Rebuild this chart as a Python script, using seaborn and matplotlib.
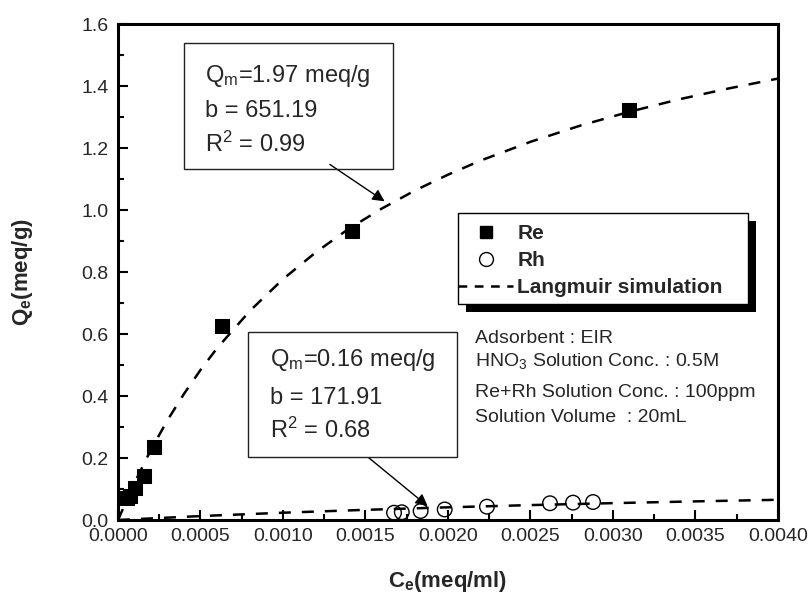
import numpy as np
import pandas as pd
import seaborn as sns
import matplotlib.pyplot as plt
from matplotlib.patches import Rectangle
from matplotlib.lines import Line2D

# measured points
re_c = [0.000053, 0.000073, 0.000103, 0.000158, 0.00022, 0.000628, 0.001418, 0.003097]
re_q = [0.072, 0.078, 0.102, 0.142, 0.234, 0.625, 0.932, 1.322]
rh_c = [0.001673, 0.00172, 0.001834, 0.00198, 0.002236, 0.002618, 0.002758, 0.002879]
rh_q = [0.0235, 0.025, 0.029, 0.034, 0.043, 0.054, 0.056, 0.058]

# Langmuir simulation curves
re_fit_c = [0, 0.0001, 0.0002, 0.0003, 0.0004, 0.0005, 0.0006, 0.0008, 0.001, 0.0012,
            0.0014, 0.0016, 0.0018, 0.002, 0.0022, 0.0025, 0.0028, 0.0031, 0.0034, 0.0037, 0.004]
re_fit_q = [0, 0.120, 0.227, 0.322, 0.407, 0.484, 0.554, 0.675, 0.777, 0.864,
            0.940, 1.005, 1.063, 1.114, 1.160, 1.220, 1.272, 1.317, 1.357, 1.392, 1.424]
rh_fit_c = [0, 0.0005, 0.001, 0.0015, 0.002, 0.0025, 0.003, 0.0035, 0.004]
rh_fit_q = [0, 0.0127, 0.0235, 0.0328, 0.0409, 0.0481, 0.0544, 0.0601, 0.0652]

re_text = [r'Q$_\mathrm{m}$=1.97 meq/g', 'b = 651.19', r'R$^\mathrm{2}$ = 0.99']
rh_text = [r'Q$_\mathrm{m}$=0.16 meq/g', 'b = 171.91', r'R$^\mathrm{2}$ = 0.68']
info_text = ['Adsorbent : EIR', r'HNO$_\mathrm{3}$ Solution Conc. : 0.5M',
             'Re+Rh Solution Conc. : 100ppm', 'Solution Volume  : 20mL']

sns.set_style("white")
plt.rcParams['font.family'] = ['Liberation Sans', 'DejaVu Sans']
plt.rcParams['mathtext.fontset'] = 'custom'
plt.rcParams['mathtext.rm'] = 'Liberation Sans'
plt.rcParams['mathtext.it'] = 'Liberation Sans:italic'
plt.rcParams['mathtext.bf'] = 'Liberation Sans:bold'

fig = plt.figure(figsize=(8.11, 5.93), dpi=100)
ax = fig.add_axes([0.1455, 0.1231, 0.8138, 0.8364])

dash = (0, (4.8, 4.4))
sns.lineplot(x=re_fit_c, y=re_fit_q, ax=ax, color='black', lw=1.8, linestyle=dash,
             estimator=None, sort=False, zorder=2)
sns.lineplot(x=rh_fit_c, y=rh_fit_q, ax=ax, color='black', lw=1.8, linestyle=dash,
             estimator=None, sort=False, zorder=2)
sns.scatterplot(x=re_c, y=re_q, ax=ax, marker='s', s=90, color='black',
                edgecolor='black', zorder=3)
sns.scatterplot(x=rh_c, y=rh_q, ax=ax, marker='o', s=110, facecolor='none',
                edgecolor='black', linewidth=1.0, zorder=3)

ax.set_xlim(0, 0.004)
ax.set_ylim(0, 1.6)
ax.set_xticks(np.arange(0, 0.00401, 0.0005))
ax.set_xticks(np.arange(0, 0.00401, 0.00025), minor=True)
ax.set_yticks(np.arange(0, 1.61, 0.2))
ax.set_yticks(np.arange(0, 1.61, 0.1), minor=True)
ax.set_xticklabels([f'{v:.4f}' for v in np.arange(0, 0.00401, 0.0005)])
ax.set_yticklabels([f'{v:.1f}' for v in np.arange(0, 1.61, 0.2)])
ax.tick_params(which='both', direction='in', bottom=True, left=True, top=False, right=False,
               labelsize=14, width=1.5, color='black')
ax.tick_params(which='major', length=7.5)
ax.tick_params(which='minor', length=4.5)
ax.tick_params(axis='x', pad=6)
ax.tick_params(axis='y', pad=7)
for sp in ax.spines.values():
    sp.set_linewidth(2.2)
    sp.set_color('black')

ax.set_xlabel(r'$\mathbf{C_e}$$\mathbf{(meq/ml)}$', fontsize=16, labelpad=17)
ax.set_ylabel(r'$\mathbf{Q_e}$$\mathbf{(meq/g)}$', fontsize=16, labelpad=33)

# parameter boxes
ax.add_patch(Rectangle((0.0004, 1.132), 0.001267, 0.407, fill=False, lw=1, ec='#222222', zorder=4))
for t, y in zip(re_text, [1.414, 1.300, 1.187]):
    ax.text(0.000527, y, t, fontsize=17, va='baseline', ha='left')
ax.add_patch(Rectangle((0.000788, 0.203), 0.001267, 0.403, fill=True, fc='white', lw=1,
                       ec='#222222', zorder=4))
for t, y in zip(rh_text, [0.497, 0.374, 0.2635]):
    ax.text(0.000921, y, t, fontsize=17, va='baseline', ha='left', zorder=5)

ax.annotate('', xy=(0.00163, 1.023), xytext=(0.00127, 1.152),
            arrowprops=dict(arrowstyle='-|>', color='black', lw=1, mutation_scale=18))
ax.annotate('', xy=(0.00189, 0.039), xytext=(0.001485, 0.216),
            arrowprops=dict(arrowstyle='-|>', color='black', lw=1, mutation_scale=18))

for t, y in zip(info_text, [0.570, 0.497, 0.396, 0.317]):
    ax.text(0.002164, y, t, fontsize=14, va='baseline', ha='left')

# legend frame with a solid black drop shadow
ax.add_patch(Rectangle((0.5152 + 0.0121, 0.4355 - 0.0161), 0.4393, 0.1835, transform=ax.transAxes,
                       fc='black', ec='none', zorder=5))
ax.add_patch(Rectangle((0.5152, 0.4355), 0.4393, 0.1835, transform=ax.transAxes,
                       fc='white', ec='black', lw=1, zorder=6))

handles = [Line2D([], [], marker='s', color='black', ls='none', markersize=9),
           Line2D([], [], marker='o', mfc='white', mec='black', ls='none', markersize=10, mew=1),
           Line2D([], [], color='black', lw=1.8, linestyle=(0, (3.5, 3)))]
leg = ax.legend(handles, ['Re', 'Rh', 'Langmuir simulation'], loc='upper left',
                bbox_to_anchor=(0.5152, 0.597), borderaxespad=0, frameon=False,
                prop={'weight': 'bold', 'size': 15},
                handlelength=2.64, handletextpad=0.2, labelspacing=0.39, borderpad=0)
leg.set_zorder(7)

plt.savefig('out.png', dpi=100)
